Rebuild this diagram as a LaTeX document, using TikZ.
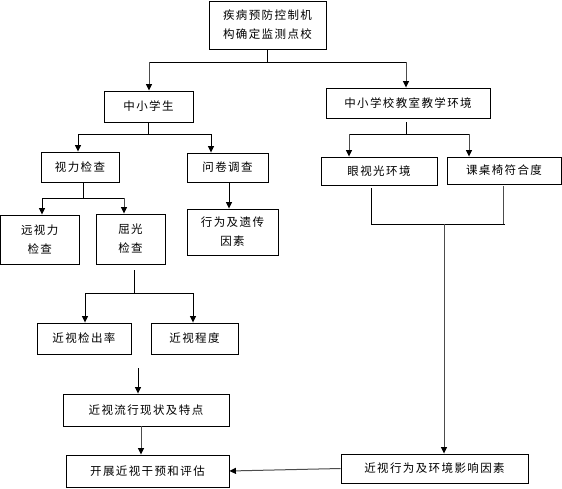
\documentclass[tikz,border=0pt]{standalone}
\usepackage{fontspec}
\newfontfamily\cjk[LetterSpace=12]{Noto Sans CJK SC}
\usetikzlibrary{arrows.meta}
\begin{document}
\begin{tikzpicture}[x=1pt,y=-1pt,
  box/.style={draw=black,line width=0.9pt,fill=white,inner sep=0pt,align=center,
    font=\cjk\fontsize{11.5}{19}\selectfont},
  ln/.style={draw=black,line width=0.9pt},
  gln/.style={draw=black!70,line width=1pt},
  arr/.style={ln,-{Triangle[length=6.5pt,width=6pt]}},
  garr/.style={gln,-{Triangle[length=6.5pt,width=6pt,color=black]}}]
\useasboundingbox[fill=white] (0,0) rectangle (562,488);
% nodes
\node[box,minimum width=117pt,minimum height=48pt] (top) at (267.5,25) {疾病预防控制机\\构确定监测点校};
\node[box,minimum width=89pt,minimum height=31pt] (zxs) at (148.5,106.5) {中小学生};
\node[box,minimum width=164pt,minimum height=30pt] (env) at (408,103) {中小学校教室教学环境};
\node[box,minimum width=78pt,minimum height=30pt] (slj) at (80,167) {视力检查};
\node[box,minimum width=81pt,minimum height=29pt] (wj) at (227.5,167.5) {问卷调查};
\node[box,minimum width=91pt,minimum height=46pt] (xw) at (232.5,232) {行为及遗传\\因素};
\node[box,minimum width=78.5pt,minimum height=49pt] (yslj) at (39.75,239.5) {远视力\\检查};
\node[box,minimum width=69pt,minimum height=50pt] (qg) at (130.5,239) {屈光\\检查};
\node[box,minimum width=94pt,minimum height=31pt] (jcl) at (84,338.5) {近视检出率};
\node[box,minimum width=87pt,minimum height=31pt] (cd) at (194.5,338.5) {近视程度};
\node[box,minimum width=166pt,minimum height=32pt] (lx) at (146,410) {近视流行现状及特点};
\node[box,minimum width=163pt,minimum height=32pt] (kz) at (147.5,471) {开展近视干预和评估};
\node[box,minimum width=116pt,minimum height=28pt] (ysg) at (379,171) {眼视光环境};
\node[box,minimum width=114pt,minimum height=27pt] (kzy) at (504,170.5) {课桌椅符合度};
\node[box,minimum width=187pt,minimum height=29pt] (zx) at (434.5,468.5) {近视行为及环境影响因素};
% junction coordinates
\coordinate (j1l) at (149,62);
\coordinate (j1r) at (406,62);
\coordinate (b2l) at (78,134);
\coordinate (b2r) at (211,134);
\coordinate (s0) at (83,182);
\coordinate (b3l) at (42,198);
\coordinate (b3r) at (124,198);
\coordinate (q0) at (134,270);
\coordinate (b4l) at (85,293);
\coordinate (b4r) at (193,293);
\coordinate (fa) at (138,368);
\coordinate (w0) at (229,182);
\coordinate (l0) at (141,426);
\coordinate (e0) at (406,122);
\coordinate (b5l) at (349,134);
\coordinate (b5r) at (469,134);
\coordinate (y0) at (371,188);
\coordinate (k0) at (503,186);
\coordinate (k1) at (505,224);
\coordinate (m0) at (444,224);
% connectors
\draw[ln] (top.south) |- (j1l);
\draw[ln] (top.south) |- (j1r);
\draw[garr] (j1l) -- (j1l |- zxs.north);
\draw[garr] (j1r) -- (j1r |- env.north);
\draw[ln] (zxs.south) |- (b2l);
\draw[ln] (zxs.south) |- (b2r);
\draw[arr] (b2l) -- (b2l |- slj.north);
\draw[arr] (b2r) -- (b2r |- wj.north);
\draw[arr] (w0) -- (w0 |- xw.north);
\draw[ln] (s0) |- (b3l);
\draw[ln] (s0) |- (b3r);
\draw[arr] (b3l) -- (b3l |- yslj.north);
\draw[garr] (b3r) -- (b3r |- qg.north);
\draw[ln] (q0) |- (b4l);
\draw[ln] (q0) |- (b4r);
\draw[arr] (b4l) -- (b4l |- jcl.north);
\draw[arr] (b4r) -- (b4r |- cd.north);
\draw[arr] (fa) -- (fa |- lx.north);
\draw[garr] (l0) -- (l0 |- kz.north);
\draw[ln] (e0) |- (b5l);
\draw[ln] (e0) |- (b5r);
\draw[garr] (b5l) -- (b5l |- ysg.north);
\draw[garr] (b5r) -- (b5r |- kzy.north);
\draw[ln] (y0) |- (k1);
\draw[gln] (k0) -- (k0 |- k1);
\draw[garr] (m0) -- (m0 |- zx.north);
\draw[garr] (zx.west) -- (kz.east);
\end{tikzpicture}
\end{document}
